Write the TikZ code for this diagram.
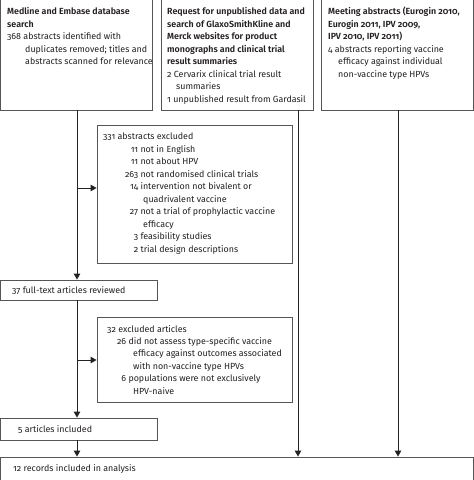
\documentclass[tikz,border=0pt]{standalone}
\usepackage{fontspec}
\setmainfont{Fira Sans}[Numbers=OldStyle, BoldFont={Fira Sans SemiBold}]
\usetikzlibrary{arrows.meta,fit}
\definecolor{boxgray}{HTML}{555555}
\definecolor{linegray}{HTML}{222222}
\definecolor{ink}{HTML}{231F20}
\newcommand\txtblock[1]{\begin{tabular}[t]{@{}l@{}}#1\end{tabular}}
\newcommand\numcol[2]{\makebox[#1][r]{#2}\ }
\begin{document}
\begin{tikzpicture}[x=1bp,y=-1bp,
  frame/.style={draw=boxgray, line width=0.9bp, inner sep=0pt},
  arr/.style={draw=linegray, line width=0.9bp, -{Triangle[length=6bp,width=6.5bp]}},
  txt/.style={anchor=base west, inner sep=0pt, font=\fontsize{8.9}{12.5}\selectfont, text=ink}]
\useasboundingbox (0,0) rectangle (474,480);
\fill[white] (0,0) rectangle (474,480);
% boxes
\node[frame, fit={(0.8,-5) (152,110)}] (b1) {};
\node[frame, fit={(161,-5) (313,110)}] (b2) {};
\node[frame, fit={(321,-5) (473.2,110)}] (b3) {};
\node[frame, fit={(97,125) (292,263)}] (ex1) {};
\node[frame, fit={(0.8,280) (157,300)}] (ft) {};
\node[frame, fit={(97,317) (292,402)}] (ex2) {};
\node[frame, fit={(0.8,418) (157,440)}] (inc) {};
\node[frame, fit={(0.8,457) (473.2,490)}] (rec) {};
% texts
\node[txt] (t1) at (7,15) {\txtblock{\textbf{Medline and Embase database}\\ \textbf{search}\\ 368 abstracts identified with\\ \hspace*{18bp}duplicates removed; titles and\\ \hspace*{18bp}abstracts scanned for relevance}};
\node[txt] (t2) at (167,15) {\txtblock{\textbf{Request for unpublished data and}\\ \textbf{search of GlaxoSmithKline and}\\ \textbf{Merck websites for product}\\ \textbf{monographs and clinical trial}\\ \textbf{result summaries}\\ 2 Cervarix clinical trial result\\ \hspace*{9bp}summaries\\ 1 unpublished result from Gardasil}};
\node[txt] (t3) at (328,15) {\txtblock{\textbf{Meeting abstracts (Eurogin 2010,}\\ \textbf{Eurogin 2011, IPV 2009,}\\ \textbf{IPV 2010, IPV 2011)}\\ 4 abstracts reporting vaccine\\ \hspace*{10bp}efficacy against individual\\ \hspace*{10bp}non-vaccine type HPVs}};
\node[txt] (t4) at (103,140) {\txtblock{331 abstracts excluded\\ \numcol{35bp}{11}not in English\\ \numcol{35bp}{11}not about HPV\\ \numcol{35bp}{263}not randomised clinical trials\\ \numcol{35bp}{14}intervention not bivalent or\\ \hspace*{40bp}quadrivalent vaccine\\ \numcol{35bp}{27}not a trial of prophylactic vaccine\\ \hspace*{40bp}efficacy\\ \numcol{35bp}{3}feasibility studies\\ \numcol{35bp}{2}trial design descriptions}};
\node[txt] (t5) at (12,293) {37 full-text articles reviewed};
\node[txt] (t6) at (107,332) {\txtblock{32 excluded articles\\ \numcol{19bp}{26}did not assess type-specific vaccine\\ \hspace*{26bp}efficacy against outcomes associated\\ \hspace*{26bp}with non-vaccine type HPVs\\ \numcol{19bp}{6}populations were not exclusively\\ \hspace*{26bp}HPV-naive}};
\node[txt] (t7) at (18,432) {5 articles included};
\node[txt] (t8) at (13,471) {12 records included in analysis};
% connector helpers
\coordinate (y1) at (0,188);
\coordinate (y2) at (0,360);
\coordinate (x2) at (298,0);
\coordinate (x3) at (398,0);
\coordinate (xl) at (77,0);
% connectors
\draw[arr] (b1.south -| xl) -- (ft.north -| xl);
\draw[arr] (y1 -| xl) -- (ex1.west |- y1);
\draw[arr] (ft.south -| xl) -- (inc.north -| xl);
\draw[arr] (y2 -| xl) -- (ex2.west |- y2);
\draw[arr] (inc.south -| xl) -- (rec.north -| xl);
\draw[arr] (b2.south -| x2) -- (rec.north -| x2);
\draw[arr] (b3.south -| x3) -- (rec.north -| x3);
\end{tikzpicture}
\end{document}
